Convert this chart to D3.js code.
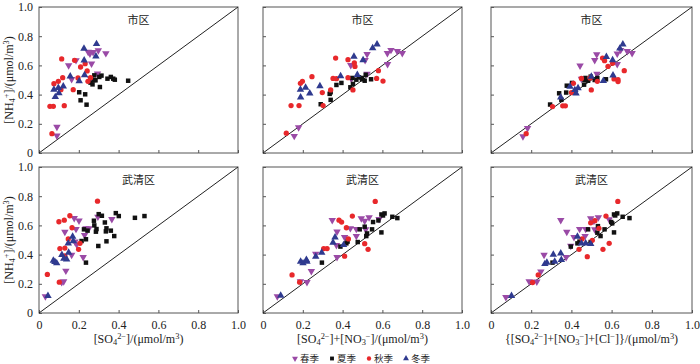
<!DOCTYPE html>
<html>
<head>
<meta charset="utf-8">
<script src="https://cdn.jsdelivr.net/npm/d3@7.9.0/dist/d3.min.js"></script>
<style>
  body { margin: 0; background: #fff; }
  svg text { font-family: "Liberation Serif", "Times New Roman", serif; fill: #222; }
  .cjk { font-family: "Noto Sans CJK SC", sans-serif; }
</style>
</head>
<body>
<svg id="chart" width="700" height="364"></svg>
<script>
// seasons
const seasons = ['春季', '夏季', '秋季', '冬季'];
const seasonColors = ['#9a4aa6', '#111111', '#e8282b', '#2f3a8f'];
const ticks = [0, 0.2, 0.4, 0.6, 0.8, 1.0];

// 市区, x = [SO4]
const city1Spring = [[0.09,0.178],[0.09,0.119],[0.149,0.6],[0.186,0.635],[0.247,0.692],[0.256,0.68],[0.264,0.612],[0.298,0.703],[0.336,0.683],[0.294,0.543],[0.164,0.505],[0.259,0.509],[0.272,0.69]];
const city1Summer = [[0.202,0.416],[0.209,0.361],[0.232,0.402],[0.239,0.331],[0.259,0.482],[0.269,0.47],[0.278,0.532],[0.284,0.498],[0.306,0.452],[0.303,0.521],[0.314,0.53],[0.344,0.509],[0.361,0.521],[0.373,0.509],[0.381,0.502],[0.448,0.495],[0.277,0.5]];
const city1Autumn = [[0.055,0.32],[0.072,0.32],[0.065,0.132],[0.075,0.475],[0.097,0.491],[0.114,0.644],[0.119,0.516],[0.11,0.434],[0.127,0.324],[0.172,0.434],[0.179,0.635],[0.196,0.514],[0.209,0.589],[0.232,0.612],[0.242,0.562],[0.246,0.491],[0.259,0.516]];
const city1Winter = [[0.226,0.715],[0.289,0.747],[0.286,0.662],[0.227,0.635],[0.157,0.525],[0.202,0.493],[0.229,0.534],[0.075,0.434],[0.097,0.447],[0.122,0.457],[0.082,0.384],[0.1,0.411]];

// 市区, x = [SO4]+[NO3]
const city2Spring = [[0.157,0.116],[0.179,0.175],[0.441,0.602],[0.513,0.636],[0.523,0.677],[0.625,0.684],[0.643,0.705],[0.675,0.698],[0.7,0.684],[0.626,0.609],[0.523,0.541],[0.444,0.507]];
const city2Summer = [[0.29,0.334],[0.34,0.364],[0.335,0.405],[0.34,0.416],[0.369,0.466],[0.394,0.48],[0.439,0.45],[0.452,0.473],[0.449,0.514],[0.469,0.502],[0.482,0.518],[0.496,0.514],[0.511,0.495],[0.516,0.536],[0.543,0.505],[0.498,0.505]];
const city2Autumn = [[0.117,0.136],[0.141,0.325],[0.181,0.325],[0.188,0.477],[0.198,0.491],[0.246,0.523],[0.298,0.414],[0.302,0.325],[0.34,0.432],[0.352,0.511],[0.369,0.509],[0.365,0.65],[0.427,0.639],[0.459,0.618],[0.462,0.593],[0.427,0.516],[0.452,0.432],[0.571,0.511],[0.58,0.564],[0.603,0.493]];
const city2Winter = [[0.189,0.382],[0.188,0.434],[0.214,0.448],[0.235,0.409],[0.286,0.459],[0.39,0.527],[0.457,0.661],[0.503,0.636],[0.474,0.536],[0.551,0.718],[0.573,0.745]];

// 市区, x = [SO4]+[NO3]+[Cl]
const city3Spring = [[0.159,0.114],[0.182,0.17],[0.443,0.598],[0.516,0.636],[0.526,0.675],[0.628,0.68],[0.645,0.705],[0.678,0.698],[0.702,0.684],[0.628,0.609],[0.527,0.541],[0.45,0.507]];
const city3Summer = [[0.294,0.332],[0.35,0.364],[0.339,0.409],[0.374,0.414],[0.377,0.461],[0.403,0.48],[0.463,0.468],[0.465,0.5],[0.483,0.495],[0.496,0.523],[0.516,0.5],[0.529,0.514],[0.572,0.505],[0.524,0.505],[0.47,0.514]];
const city3Autumn = [[0.175,0.132],[0.306,0.318],[0.357,0.323],[0.37,0.323],[0.4,0.414],[0.41,0.477],[0.499,0.432],[0.529,0.491],[0.555,0.65],[0.565,0.632],[0.582,0.593],[0.612,0.507],[0.632,0.502],[0.632,0.489],[0.663,0.564],[0.605,0.614],[0.45,0.511],[0.493,0.514]];
const city3Winter = [[0.347,0.382],[0.393,0.455],[0.417,0.432],[0.433,0.445],[0.423,0.409],[0.499,0.523],[0.574,0.659],[0.605,0.636],[0.559,0.495],[0.607,0.532],[0.641,0.716],[0.656,0.745]];

// 武清区, x = [SO4]
const wq1Spring = [[0.032,0.114],[0.114,0.211],[0.124,0.216],[0.13,0.555],[0.135,0.289],[0.164,0.398],[0.177,0.65],[0.186,0.575],[0.201,0.632],[0.181,0.489],[0.189,0.47],[0.222,0.382],[0.229,0.534],[0.236,0.58],[0.251,0.58],[0.296,0.659],[0.366,0.643]];
const wq1Summer = [[0.214,0.493],[0.226,0.573],[0.236,0.505],[0.244,0.564],[0.236,0.345],[0.276,0.632],[0.278,0.6],[0.286,0.557],[0.289,0.575],[0.298,0.459],[0.3,0.677],[0.316,0.666],[0.331,0.62],[0.336,0.559],[0.339,0.491],[0.339,0.58],[0.361,0.564],[0.378,0.527],[0.386,0.684],[0.401,0.664],[0.482,0.652],[0.53,0.664]];
const wq1Autumn = [[0.042,0.264],[0.102,0.211],[0.1,0.625],[0.105,0.441],[0.127,0.636],[0.13,0.445],[0.13,0.391],[0.147,0.507],[0.155,0.666],[0.166,0.584],[0.199,0.436],[0.206,0.477],[0.294,0.766]];
const wq1Winter = [[0.045,0.118],[0.072,0.359],[0.08,0.35],[0.089,0.341],[0.115,0.398],[0.125,0.373],[0.139,0.368],[0.147,0.477],[0.169,0.523],[0.172,0.493],[0.149,0.414]];

// 武清区, x = [SO4]+[NO3]
const wq2Spring = [[0.072,0.114],[0.188,0.216],[0.221,0.211],[0.243,0.286],[0.265,0.405],[0.348,0.636],[0.369,0.464],[0.372,0.382],[0.372,0.557],[0.41,0.52],[0.439,0.58],[0.469,0.575],[0.469,0.527],[0.494,0.648],[0.511,0.63],[0.533,0.655],[0.516,0.573],[0.583,0.643]];
const wq2Summer = [[0.296,0.345],[0.389,0.455],[0.419,0.477],[0.425,0.489],[0.476,0.486],[0.486,0.573],[0.511,0.591],[0.519,0.527],[0.523,0.545],[0.548,0.573],[0.553,0.623],[0.58,0.634],[0.595,0.675],[0.611,0.682],[0.595,0.552],[0.65,0.659],[0.675,0.65],[0.603,0.668]];
const wq2Autumn = [[0.146,0.261],[0.184,0.211],[0.305,0.441],[0.322,0.441],[0.382,0.636],[0.395,0.623],[0.41,0.389],[0.419,0.584],[0.429,0.507],[0.449,0.664],[0.511,0.475],[0.528,0.436],[0.564,0.764]];
const wq2Winter = [[0.089,0.12],[0.189,0.352],[0.201,0.341],[0.218,0.364],[0.221,0.352],[0.265,0.386],[0.295,0.414],[0.352,0.482],[0.362,0.518],[0.405,0.466]];

// 武清区, x = [SO4]+[NO3]+[Cl]
const wq3Spring = [[0.074,0.109],[0.19,0.216],[0.228,0.214],[0.248,0.284],[0.264,0.398],[0.347,0.636],[0.377,0.555],[0.374,0.382],[0.413,0.52],[0.441,0.575],[0.471,0.575],[0.468,0.527],[0.496,0.648],[0.512,0.63],[0.534,0.655],[0.516,0.573],[0.588,0.641],[0.397,0.459]];
const wq3Summer = [[0.306,0.345],[0.397,0.455],[0.43,0.477],[0.44,0.489],[0.496,0.486],[0.483,0.573],[0.532,0.595],[0.529,0.55],[0.545,0.527],[0.565,0.573],[0.598,0.623],[0.603,0.614],[0.612,0.675],[0.628,0.682],[0.612,0.552],[0.655,0.659],[0.689,0.65],[0.618,0.668]];
const wq3Autumn = [[0.235,0.261],[0.207,0.209],[0.438,0.436],[0.453,0.507],[0.479,0.386],[0.496,0.618],[0.504,0.498],[0.517,0.632],[0.537,0.58],[0.557,0.436],[0.572,0.664],[0.588,0.477],[0.631,0.764]];
const wq3Winter = [[0.102,0.118],[0.268,0.336],[0.278,0.345],[0.31,0.4],[0.317,0.352],[0.347,0.409],[0.35,0.364],[0.43,0.523],[0.45,0.477],[0.471,0.477],[0.496,0.473]];

const panels = [
  { row: 0, col: 0, title: '市区', series: [city1Spring, city1Summer, city1Autumn, city1Winter] },
  { row: 0, col: 1, title: '市区', series: [city2Spring, city2Summer, city2Autumn, city2Winter] },
  { row: 0, col: 2, title: '市区', series: [city3Spring, city3Summer, city3Autumn, city3Winter] },
  { row: 1, col: 0, title: '武清区', series: [wq1Spring, wq1Summer, wq1Autumn, wq1Winter] },
  { row: 1, col: 1, title: '武清区', series: [wq2Spring, wq2Summer, wq2Autumn, wq2Winter] },
  { row: 1, col: 2, title: '武清区', series: [wq3Spring, wq3Summer, wq3Autumn, wq3Winter] },
];

// rich labels: [text, 'n' | 'sub' | 'sup']
const yLabel = [['[NH','n'],['4','sub'],['+','sup'],[']/(μmol/m','n'],['3','sup'],[')','n']];
const xLabels = [
  [['[SO','n'],['4','sub'],['2−','sup'],[']/(μmol/m','n'],['3','sup'],[')','n']],
  [['[SO','n'],['4','sub'],['2−','sup'],[']+[NO','n'],['3','sub'],['−','sup'],[']/(μmol/m','n'],['3','sup'],[')','n']],
  [['{[SO','n'],['4','sub'],['2−','sup'],[']+[NO','n'],['3','sub'],['−','sup'],[']+[Cl','n'],['−','sup'],[']}/(μmol/m','n'],['3','sup'],[')','n']],
];

const colX = [[39, 238], [263, 462], [491, 692]];
const rowY = [[153, 7], [313, 167]];

const svg = d3.select('#chart');

function richText(sel, parts, size) {
  parts.forEach(([t, k]) => {
    const ts = sel.append('tspan').text(t);
    if (k === 'sub') ts.attr('font-size', size * 0.7).attr('baseline-shift', '-25%');
    if (k === 'sup') ts.attr('font-size', size * 0.7).attr('baseline-shift', '45%');
  });
}

const symbols = [
  d3.symbol().type(d3.symbolTriangle).size(24),
  d3.symbol().type(d3.symbolSquare).size(20),
  d3.symbol().type(d3.symbolCircle).size(22),
  d3.symbol().type(d3.symbolTriangle).size(24),
];
const rotations = [180, 0, 0, 0];

panels.forEach(p => {
  const x = d3.scaleLinear().domain([0, 1]).range(colX[p.col]);
  const y = d3.scaleLinear().domain([0, 1]).range(rowY[p.row]);
  const g = svg.append('g');

  // frame
  g.append('rect')
    .attr('x', x(0)).attr('y', y(1))
    .attr('width', x(1) - x(0)).attr('height', y(0) - y(1))
    .attr('fill', 'none').attr('stroke', '#555').attr('stroke-width', 1);

  // axes with inner ticks
  const fmt = d => d === 0 ? '0' : d3.format('.1f')(d);
  const xAxis = d3.axisBottom(x).tickValues(ticks).tickSizeInner(-3).tickSizeOuter(0).tickFormat(fmt);
  const yAxis = d3.axisLeft(y).tickValues(ticks).tickSizeInner(-3).tickSizeOuter(0).tickFormat(fmt);

  const gx = g.append('g').attr('transform', `translate(0,${y(0)})`).call(xAxis);
  const gy = g.append('g').attr('transform', `translate(${x(0)},0)`).call(yAxis);
  [gx, gy].forEach(a => {
    a.select('.domain').remove();
    a.selectAll('line').attr('stroke', '#555');
    a.selectAll('text').attr('font-size', 12).attr('fill', '#333')
      .style('font-family', '"Liberation Serif", serif');
  });
  gx.selectAll('text').attr('dy', '1.1em').attr('y', 3);
  gy.selectAll('text').attr('x', -6);
  if (p.row === 0) gx.selectAll('text').remove();
  if (p.col !== 0) gy.selectAll('text').remove();

  // 1:1 line
  g.append('line')
    .attr('x1', x(0)).attr('y1', y(0)).attr('x2', x(1)).attr('y2', y(1))
    .attr('stroke', '#222').attr('stroke-width', 1);

  // title
  g.append('text').attr('class', 'cjk')
    .attr('x', (x(0) + x(1)) / 2).attr('y', y(1) + 17)
    .attr('text-anchor', 'middle').attr('font-size', 11).attr('fill', '#444')
    .text(p.title);

  // points
  p.series.forEach((data, si) => {
    g.append('g').selectAll('path').data(data).join('path')
      .attr('d', symbols[si])
      .attr('transform', d => `translate(${x(d[0])},${y(d[1])}) rotate(${rotations[si]})`)
      .attr('fill', seasonColors[si]);
  });

  // labels
  if (p.col === 0) {
    const cy = (y(0) + y(1)) / 2;
    const t = svg.append('text')
      .attr('transform', `translate(13,${cy}) rotate(-90)`)
      .attr('text-anchor', 'middle').attr('font-size', 12);
    richText(t, yLabel, 12);
  }
  if (p.row === 1) {
    const t = svg.append('text')
      .attr('x', (x(0) + x(1)) / 2).attr('y', 343)
      .attr('text-anchor', 'middle').attr('font-size', 12);
    richText(t, xLabels[p.col], 12);
  }
});

// legend
const legendX = [295, 332, 369, 406];
seasons.forEach((s, i) => {
  svg.append('path')
    .attr('d', d3.symbol().type(i === 1 ? d3.symbolSquare : i === 2 ? d3.symbolCircle : d3.symbolTriangle).size(15)())
    .attr('transform', `translate(${legendX[i]},358.5) rotate(${rotations[i]})`)
    .attr('fill', seasonColors[i]);
  svg.append('text').attr('class', 'cjk')
    .attr('x', legendX[i] + 5).attr('y', 362)
    .attr('font-size', 9.5).attr('fill', '#333')
    .text(s);
});
</script>
</body>
</html>
